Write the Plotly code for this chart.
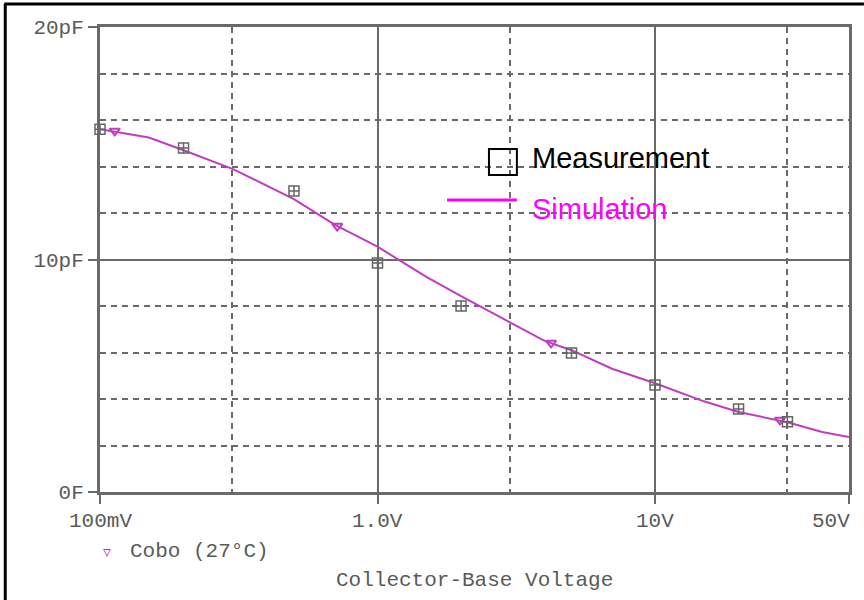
import math
import plotly.graph_objects as go

# Simulation curve (Cobo vs collector-base voltage)
sim_v = [0.1, 0.15, 0.2, 0.3, 0.5, 0.7, 1.0, 1.5, 2.0, 3.0, 4.0, 5.0, 7.0, 10.0, 15.0, 20.0, 30.0, 40.0, 50.0]
sim_c = [15.6, 15.25, 14.7, 13.9, 12.6, 11.5, 10.55, 9.25, 8.42, 7.3, 6.5, 6.1, 5.3, 4.68, 3.9, 3.44, 3.0, 2.58, 2.37]

# PSpice trace symbol positions on the simulation curve
sym_v = [0.113, 0.716, 4.22, 28.2]
sym_c = [15.53, 11.44, 6.41, 3.10]

# Measurement points
meas_v = [0.1, 0.2, 0.5, 1.0, 2.0, 5.0, 10.0, 20.0, 30.0]
meas_c = [15.6, 14.8, 12.95, 9.85, 8.0, 5.98, 4.6, 3.57, 3.02]

x_tick_vals = [0.1, 1.0, 10.0, 50.0]
x_tick_text = ["100mV", "1.0V", "10V", "50V"]
y_tick_vals = [0, 10, 20]
y_tick_text = ["0F", "10pF", "20pF"]
x_minor = [0.3, 3.0, 30.0]
y_minor = [2, 4, 6, 8, 12, 14, 16, 18]

GRID = "#6a6a6a"
LINE = "#c03cc0"
MONO = "Liberation Mono, Courier New, monospace"

fig = go.Figure()
fig.add_trace(go.Scatter(x=sim_v, y=sim_c, mode="lines",
                         line=dict(color=LINE, width=2), showlegend=False))
fig.add_trace(go.Scatter(x=sym_v, y=sym_c, mode="markers",
                         marker=dict(symbol="triangle-down-open", size=9,
                                     color=LINE, line=dict(width=2)),
                         showlegend=False))
fig.add_trace(go.Scatter(x=meas_v, y=meas_c, mode="markers",
                         marker=dict(symbol="square-cross-open", size=10,
                                     color="#666666", line=dict(width=1.5)),
                         showlegend=False, cliponaxis=False))

fig.update_xaxes(type="log", range=[-1, math.log10(50)],
                 tickvals=x_tick_vals, ticktext=x_tick_text, showticklabels=False,
                 ticks="outside", ticklen=9, tickwidth=2, tickcolor=GRID,
                 showgrid=True, gridcolor=GRID, gridwidth=2,
                 showline=True, linecolor=GRID, linewidth=3, mirror=True,
                 zeroline=False,
                 minor=dict(tickvals=x_minor, showgrid=True, gridcolor=GRID,
                            gridwidth=2, griddash="6px,5px", ticks=""))
fig.update_yaxes(range=[0, 20],
                 tickvals=y_tick_vals, ticktext=y_tick_text,
                 ticks="outside", ticklen=9, tickwidth=2, tickcolor=GRID,
                 tickfont=dict(family=MONO, size=21, color="#5a5a5a"),
                 showgrid=True, gridcolor=GRID, gridwidth=2,
                 showline=True, linecolor=GRID, linewidth=3, mirror=True,
                 zeroline=False,
                 minor=dict(tickvals=y_minor, showgrid=True, gridcolor=GRID,
                            gridwidth=2, griddash="6px,5px", ticks=""))

W, H = 864, 600
L, T = 100, 27
R = W - 851
B = H - 492
pw, ph = W - L - R, H - T - B


def px(xp):
    return (xp - L) / pw


def py(yp):
    return (H - B - yp) / ph


ann = []
for i, (v, t) in enumerate(zip(x_tick_vals, x_tick_text)):
    last = i == len(x_tick_vals) - 1
    ann.append(dict(x=math.log10(v), y=py(521), xref="x", yref="paper",
                    text=t, showarrow=False,
                    xanchor="right" if last else "center", yanchor="middle",
                    xshift=3 if last else 0,
                    font=dict(family=MONO, size=21, color="#5a5a5a")))
ann.append(dict(x=px(128), y=py(551), xref="paper", yref="paper",
                text="Cobo (27°C)", showarrow=False, xanchor="left", yanchor="middle",
                font=dict(family=MONO, size=21, color="#5a5a5a")))
ann.append(dict(x=px(107), y=py(551), xref="paper", yref="paper",
                text="▿", showarrow=False, xanchor="center", yanchor="middle",
                font=dict(family="DejaVu Sans", size=16, color=LINE)))
ann.append(dict(x=0.5, y=py(580), xref="paper", yref="paper",
                text="Collector-Base Voltage", showarrow=False,
                xanchor="center", yanchor="middle",
                font=dict(family=MONO, size=21, color="#5a5a5a")))
ann.append(dict(x=px(531), y=py(158), xref="paper", yref="paper",
                text="Measurement", showarrow=False, xanchor="left", yanchor="middle",
                font=dict(family="Liberation Sans, Arial", size=29, color="black")))
ann.append(dict(x=px(531), y=py(209), xref="paper", yref="paper",
                text="Simulation", showarrow=False, xanchor="left", yanchor="middle",
                font=dict(family="Liberation Sans, Arial", size=29, color="#ff00ff")))

shapes = [
    dict(type="rect", xref="paper", yref="paper", x0=px(490), x1=px(518),
         y0=py(149), y1=py(175), line=dict(color="black", width=2)),
    dict(type="line", xref="paper", yref="paper", x0=px(448), x1=px(518),
         y0=py(200), y1=py(200), line=dict(color="#ff00ff", width=3)),
    dict(type="line", xref="paper", yref="paper", x0=px(5), x1=px(5),
         y0=py(4), y1=py(602), line=dict(color="black", width=3)),
    dict(type="line", xref="paper", yref="paper", x0=px(4), x1=px(866),
         y0=py(4), y1=py(4), line=dict(color="black", width=3)),
]

fig.update_layout(width=W, height=H, margin=dict(l=L, r=R, t=T, b=B),
                  plot_bgcolor="white", paper_bgcolor="white",
                  annotations=ann, shapes=shapes, showlegend=False)
fig.write_html("out.html", config={"displayModeBar": False},
               post_script="document.body.style.margin='0';"
                           "document.body.style.overflow='hidden';")
